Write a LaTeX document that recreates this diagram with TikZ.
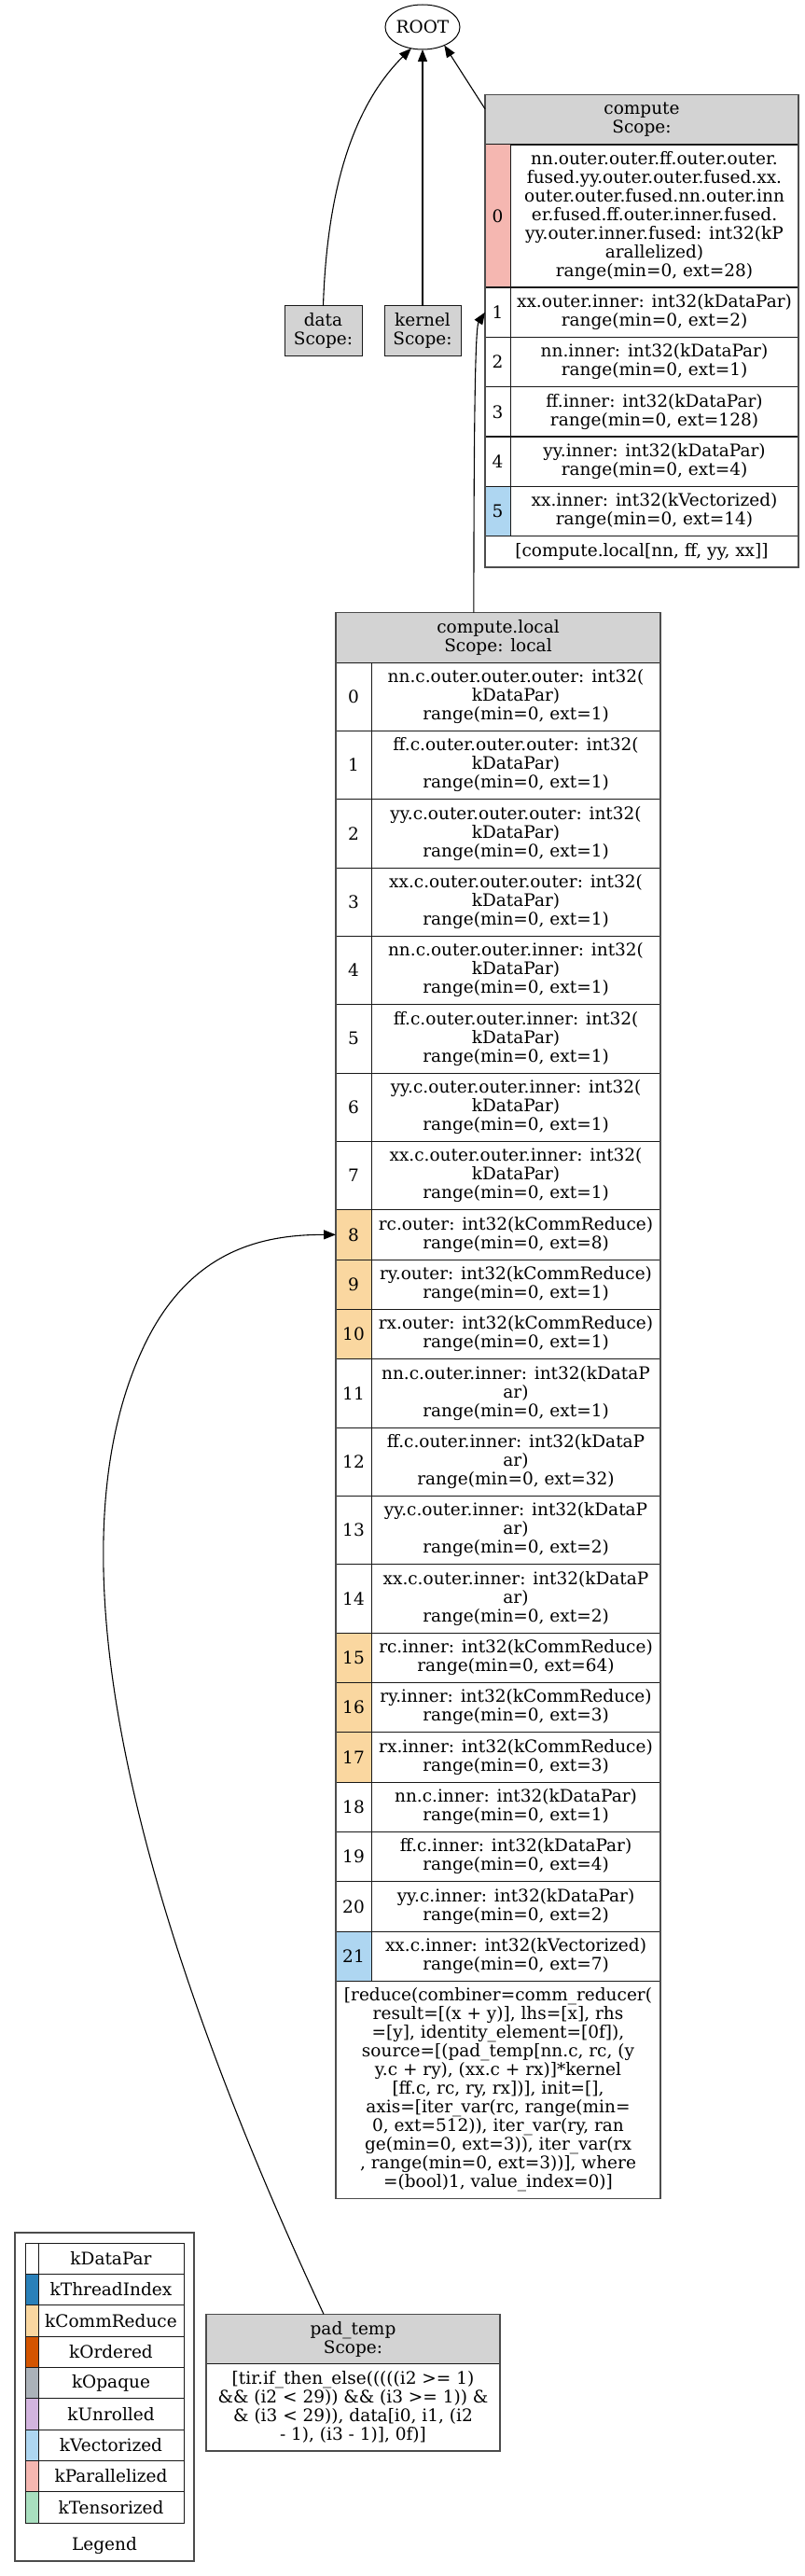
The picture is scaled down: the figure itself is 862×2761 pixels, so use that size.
\documentclass[tikz,border=0pt]{standalone}
\usepackage{fontspec}
\setmainfont{DejaVu Serif}
\usetikzlibrary{shapes.geometric,arrows.meta,calc}
\definecolor{hdr}{HTML}{D3D3D3}
\definecolor{cDP}{HTML}{FFFFFF}
\definecolor{cTI}{HTML}{2980B9}
\definecolor{cCR}{HTML}{FAD7A0}
\definecolor{cOR}{HTML}{D35400}
\definecolor{cOP}{HTML}{ABB2B9}
\definecolor{cUN}{HTML}{D2B4DE}
\definecolor{cVE}{HTML}{AED6F1}
\definecolor{cPA}{HTML}{F5B7B1}
\definecolor{cTE}{HTML}{A9DFBF}
\tikzset{
  base/.style={font=\fontsize{18.5}{20}\selectfont, align=center, inner sep=0pt, outer sep=0pt},
  cell/.style={base, draw=black!90, line width=1pt},
  frame/.style={draw=black!70, line width=1.3pt},
  edge/.style={line width=1.1pt, -{Triangle[length=13pt,width=10pt]}},
}
% compute.local rows: name, centre y, height, fill, index, text
\newcommand{\tvmlrow}[6]{%
  \node[cell, fill=#4, minimum width=38, minimum height=#3] (#1i) at (379,#2) {#5};
  \node[cell, minimum width=310, minimum height=#3] (#1t) at (553,#2) {#6};}
% compute rows
\newcommand{\tvmcrow}[6]{%
  \node[cell, fill=#4, minimum width=27, minimum height=#3] (#1i) at (533.5,#2) {#5};
  \node[cell, minimum width=309, minimum height=#3] (#1t) at (701.5,#2) {#6};}
% legend rows
\newcommand{\tvmleg}[4]{%
  \node[cell, fill=#3, minimum width=13.3, minimum height=33.33] (#1c) at (34.35,#2) {};
  \node[cell, minimum width=156, minimum height=33.33] (#1t) at (119,#2) {#4};}
\begin{document}
\begin{tikzpicture}[x=1pt,y=-1pt]
\fill[white] (0,0) rectangle (862,2761);
\useasboundingbox (0,0) rectangle (862,2761);

% ROOT
\node[base, draw=black, line width=1pt, ellipse, minimum width=72, minimum height=48] (root) at (453,29) {ROOT};

% data, kernel
\node[cell, fill=hdr, minimum width=83, minimum height=53.33] (data) at (346.5,354.5) {data\\Scope:};
\node[cell, fill=hdr, minimum width=82, minimum height=53.33] (kernel) at (453,354.5) {kernel\\Scope:};

% compute
\node[cell, fill=hdr, minimum width=336, minimum height=53.33] (chd) at (688,128.5) {compute\\Scope:};
\tvmcrow{c0}{231.5}{153}{cPA}{0}{nn.outer.outer.ff.outer.outer.\\fused.yy.outer.outer.fused.xx.\\outer.outer.fused.nn.outer.inn\\er.fused.ff.outer.inner.fused.\\yy.outer.inner.fused: int32(kP\\arallelized)\\range(min=0, ext=28)}
\tvmcrow{c1}{334.67}{53.33}{cDP}{1}{xx.outer.inner: int32(kDataPar)\\range(min=0, ext=2)}
\tvmcrow{c2}{388}{53.33}{cDP}{2}{nn.inner: int32(kDataPar)\\range(min=0, ext=1)}
\tvmcrow{c3}{441.33}{53.33}{cDP}{3}{ff.inner: int32(kDataPar)\\range(min=0, ext=128)}
\tvmcrow{c4}{494.67}{53.33}{cDP}{4}{yy.inner: int32(kDataPar)\\range(min=0, ext=4)}
\tvmcrow{c5}{548}{53.33}{cVE}{5}{xx.inner: int32(kVectorized)\\range(min=0, ext=14)}
\node[cell, minimum width=336, minimum height=33.33] (cft) at (688,591.33) {[compute.local[nn, ff, yy, xx]]};
\draw[frame] (chd.north west) rectangle (cft.south east);

% compute.local
\node[cell, fill=hdr, minimum width=348, minimum height=53.33] (lhd) at (534,683.33) {compute.local\\Scope: local};
\tvmlrow{l0}{746.67}{73.33}{cDP}{0}{nn.c.outer.outer.outer: int32(\\kDataPar)\\range(min=0, ext=1)}
\tvmlrow{l1}{820}{73.33}{cDP}{1}{ff.c.outer.outer.outer: int32(\\kDataPar)\\range(min=0, ext=1)}
\tvmlrow{l2}{893.33}{73.33}{cDP}{2}{yy.c.outer.outer.outer: int32(\\kDataPar)\\range(min=0, ext=1)}
\tvmlrow{l3}{966.67}{73.33}{cDP}{3}{xx.c.outer.outer.outer: int32(\\kDataPar)\\range(min=0, ext=1)}
\tvmlrow{l4}{1040}{73.33}{cDP}{4}{nn.c.outer.outer.inner: int32(\\kDataPar)\\range(min=0, ext=1)}
\tvmlrow{l5}{1113.33}{73.33}{cDP}{5}{ff.c.outer.outer.inner: int32(\\kDataPar)\\range(min=0, ext=1)}
\tvmlrow{l6}{1186.67}{73.33}{cDP}{6}{yy.c.outer.outer.inner: int32(\\kDataPar)\\range(min=0, ext=1)}
\tvmlrow{l7}{1260}{73.33}{cDP}{7}{xx.c.outer.outer.inner: int32(\\kDataPar)\\range(min=0, ext=1)}
\tvmlrow{l8}{1323.33}{53.33}{cCR}{8}{rc.outer: int32(kCommReduce)\\range(min=0, ext=8)}
\tvmlrow{l9}{1376.67}{53.33}{cCR}{9}{ry.outer: int32(kCommReduce)\\range(min=0, ext=1)}
\tvmlrow{l10}{1430}{53.33}{cCR}{10}{rx.outer: int32(kCommReduce)\\range(min=0, ext=1)}
\tvmlrow{l11}{1493.33}{73.33}{cDP}{11}{nn.c.outer.inner: int32(kDataP\\ar)\\range(min=0, ext=1)}
\tvmlrow{l12}{1566.67}{73.33}{cDP}{12}{ff.c.outer.inner: int32(kDataP\\ar)\\range(min=0, ext=32)}
\tvmlrow{l13}{1640}{73.33}{cDP}{13}{yy.c.outer.inner: int32(kDataP\\ar)\\range(min=0, ext=2)}
\tvmlrow{l14}{1713.33}{73.33}{cDP}{14}{xx.c.outer.inner: int32(kDataP\\ar)\\range(min=0, ext=2)}
\tvmlrow{l15}{1776.67}{53.33}{cCR}{15}{rc.inner: int32(kCommReduce)\\range(min=0, ext=64)}
\tvmlrow{l16}{1830}{53.33}{cCR}{16}{ry.inner: int32(kCommReduce)\\range(min=0, ext=3)}
\tvmlrow{l17}{1883.33}{53.33}{cCR}{17}{rx.inner: int32(kCommReduce)\\range(min=0, ext=3)}
\tvmlrow{l18}{1936.67}{53.33}{cDP}{18}{nn.c.inner: int32(kDataPar)\\range(min=0, ext=1)}
\tvmlrow{l19}{1990}{53.33}{cDP}{19}{ff.c.inner: int32(kDataPar)\\range(min=0, ext=4)}
\tvmlrow{l20}{2043.33}{53.33}{cDP}{20}{yy.c.inner: int32(kDataPar)\\range(min=0, ext=2)}
\tvmlrow{l21}{2096.67}{53.33}{cVE}{21}{xx.c.inner: int32(kVectorized)\\range(min=0, ext=7)}
\node[cell, minimum width=348, minimum height=233.33] (lft) at (534,2240) {[reduce(combiner=comm\_reducer(\\result=[(x + y)], lhs=[x], rhs\\{}=[y], identity\_element=[0f]),\\source=[(pad\_temp[nn.c, rc, (y\\y.c + ry), (xx.c + rx)]*kernel\\{}[ff.c, rc, ry, rx])], init=[],\\axis=[iter\_var(rc, range(min=\\0, ext=512)), iter\_var(ry, ran\\ge(min=0, ext=3)), iter\_var(rx\\, range(min=0, ext=3))], where\\{}=(bool)1, value\_index=0)]};
\draw[frame] (lhd.north west) rectangle (lft.south east);

% pad_temp
\node[cell, fill=hdr, minimum width=315, minimum height=53.33] (phd) at (378.5,2507) {pad\_temp\\Scope:};
\node[cell, minimum width=315, minimum height=93.33] (pbd) at (378.5,2580.33) {[tir.if\_then\_else(((((i2 >= 1)\\\&\& (i2 < 29)) \&\& (i3 >= 1)) \&\\\& (i3 < 29)), data[i0, i1, (i2\\- 1), (i3 - 1)], 0f)]};
\draw[frame] (phd.north west) rectangle (pbd.south east);

% legend
\node[frame, base, minimum width=192, minimum height=352] (lgd) at (112,2569) {};
\tvmleg{g0}{2420.67}{cDP}{kDataPar}
\tvmleg{g1}{2454}{cTI}{kThreadIndex}
\tvmleg{g2}{2487.33}{cCR}{kCommReduce}
\tvmleg{g3}{2520.67}{cOR}{kOrdered}
\tvmleg{g4}{2554}{cOP}{kOpaque}
\tvmleg{g5}{2587.33}{cUN}{kUnrolled}
\tvmleg{g6}{2620.67}{cVE}{kVectorized}
\tvmleg{g7}{2654}{cPA}{kParallelized}
\tvmleg{g8}{2687.33}{cTE}{kTensorized}
\node[base] (lgdlabel) at (112,2728) {Legend};

% edges
\draw[edge] (data.north) .. controls (350,220) and (372,120) .. (root.-118);
\draw[edge] (kernel.north) -- (root.south);
\draw[edge] (chd.176) -- (root.-40);
\draw[edge] ($(lhd.north west)!0.425!(lhd.north east)$) .. controls (508,420) and (510,350) .. (c1i.west);
\draw[edge] ($(phd.north west)!0.4!(phd.north east)$) .. controls (100,1950) and (70,1630) .. (151,1450) .. controls (200,1340) and (280,1323.33) .. (l8i.west);
\end{tikzpicture}
\end{document}
